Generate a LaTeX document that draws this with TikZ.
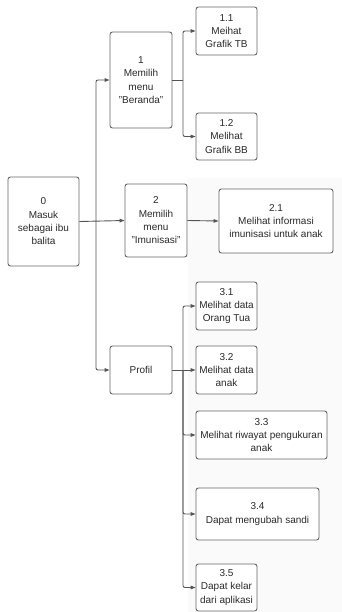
\documentclass[tikz,border=0pt]{standalone}
\usepackage{fontspec}
\setmainfont{Liberation Sans}
\usetikzlibrary{arrows.meta}
\definecolor{ln}{HTML}{555555}
\definecolor{tx}{HTML}{2A2A2A}
\definecolor{bx}{HTML}{666666}
\tikzset{
  box/.style={draw=bx, line width=0.9pt, rounded corners=2.5pt, fill=white,
    align=center, text=tx, inner sep=1pt,
    font=\fontsize{10}{13.3}\selectfont},
  conn/.style={draw=ln, line width=0.9pt, rounded corners=2pt},
  arr/.style={conn, -{Triangle[length=5pt,width=3.6pt]}}
}
\begin{document}
\begin{tikzpicture}[x=1pt,y=-1pt]
\useasboundingbox (0,0) rectangle (342,612);
\fill[black!2] (188,178) rectangle (342,612);
% nodes
\node[box, minimum width=71pt, minimum height=89pt] (n0) at (43.5,221.5) {0\\Masuk\\sebagai ibu\\balita};
\node[box, minimum width=62pt, minimum height=96pt] (n1) at (141,80) {1\\Memilih\\menu\\"Beranda"};
\node[box, minimum width=61pt, minimum height=48pt] (n11) at (226.5,31) {1.1\\Meihat\\Grafik TB};
\node[box, minimum width=61pt, minimum height=47pt] (n12) at (226.5,136.5) {1.2\\Melihat\\Grafik BB};
\node[box, minimum width=62pt, minimum height=73pt] (n2) at (156,220.5) {2\\Memilih\\menu\\"Imunisasi"};
\node[box, minimum width=114pt, minimum height=64pt] (n21) at (276,221) {2.1\\Melihat informasi\\imunisasi untuk anak};
\node[box, minimum width=62pt, minimum height=48pt] (nP) at (141,370) {Profil};
\node[box, minimum width=61pt, minimum height=48pt] (n31) at (226.5,306) {3.1\\Melihat data\\Orang Tua};
\node[box, minimum width=61pt, minimum height=48pt] (n32) at (226.5,370) {3.2\\Melihat data\\anak};
\node[box, minimum width=131pt, minimum height=48pt] (n33) at (261.5,435) {3.3\\Melihat riwayat pengukuran\\anak};
\node[box, minimum width=123pt, minimum height=52pt] (n34) at (257.5,514) {3.4\\Dapat mengubah sandi};
\node[box, minimum width=61pt, minimum height=47pt] (n35) at (226.5,587.5) {3.5\\Dapat kelar\\dari aplikasi};
% junctions
\coordinate (t0) at (96,221);
\coordinate (t1) at (183,80);
\coordinate (t3) at (183,370);
% connectors
\draw[arr] (n0.east) -- (n2.west);
\draw[arr] (t0) |- (n1.west);
\draw[arr] (t0) |- (nP.west);
\draw[conn] (n1.east) -- (t1);
\draw[arr] (t1) |- (n11.west);
\draw[arr] (t1) |- (n12.west);
\draw[arr] (n2.east) -- (n21.west);
\draw[conn] (nP.east) -- (t3);
\draw[arr] (t3) |- (n31.west);
\draw[arr] (t3) -- (n32.west);
\draw[arr] (t3) |- (n33.west);
\draw[arr] (t3) |- (n34.west);
\draw[arr] (t3) |- (n35.west);
\end{tikzpicture}
\end{document}
